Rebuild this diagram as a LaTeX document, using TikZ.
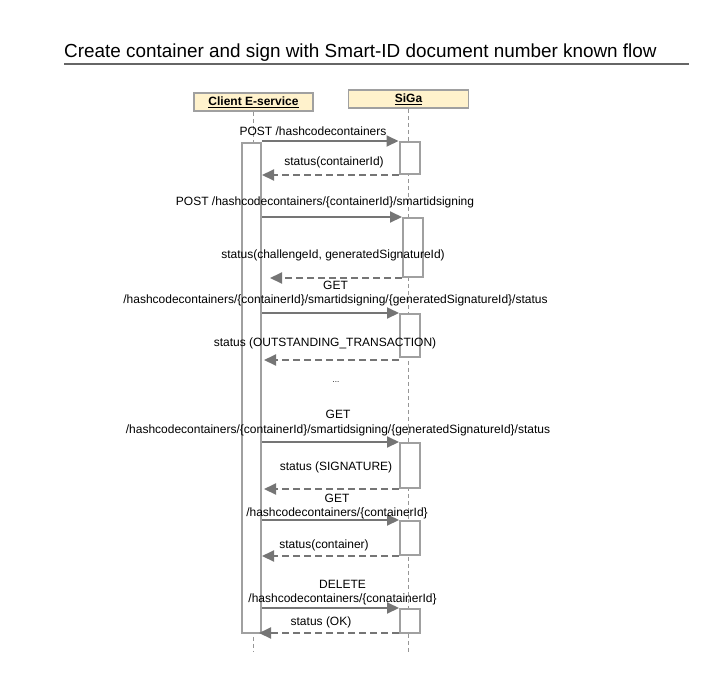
\documentclass[tikz,border=0pt]{standalone}
\usepackage{fontspec}
\setmainfont{Liberation Sans}
\usepackage{tikz}
\usetikzlibrary{arrows.meta}
\definecolor{cream}{RGB}{255, 242, 204}
\definecolor{silver}{RGB}{160, 160, 160}
\definecolor{concrete}{RGB}{117, 117, 117}
\definecolor{asbestos}{RGB}{150, 150, 150}
\definecolor{wetasphalt}{RGB}{102, 102, 102}

\begin{document}
\begin{tikzpicture}[x=1pt, y=-1pt,
            actor/.style={draw=silver, fill=cream, line width=1.5pt, inner sep=0pt, font=\fontsize{12}{14}\selectfont\bfseries},
            act/.style={draw=silver, fill=white, line width=2pt, inner sep=0pt, anchor=north west},
            life/.style={draw=asbestos, line width=1.5pt, dash pattern=on 4pt off 3pt},
            msg/.style={draw=concrete, line width=2pt, -{Triangle[length=12pt, width=11pt]}},
            reply/.style={msg, dash pattern=on 7pt off 4pt},
            lbl/.style={font=\fontsize{12}{14.3}\selectfont, align=center, inner sep=0pt}]
        \useasboundingbox (0,0) rectangle (724,681);
            \node[anchor=base west, inner sep=0pt, font=\fontsize{18.9}{22}\selectfont] (title) at (64,57)
                 {Create container and sign with Smart-ID document number known flow};
            \coordinate (rulestart) at ( 64.0, 64.0);
            \coordinate (ruleend)   at (689.0, 64.0);
            \draw[wetasphalt, line width=1.5pt] (rulestart) -- (ruleend);
            \node[actor, minimum width=119pt, minimum height=18pt] (client) at (253.5,102.0) {\underline{Client E-service}};
            \node[actor, minimum width=120pt, minimum height=18pt] (siga)   at (408.5, 99.0) {\underline{SiGa}};
            \coordinate (lifeend) at (0.0,652.0);
            \draw[life] (client.south) -- (client.south |- lifeend);
            \draw[life] (siga.south)   -- (siga.south   |- lifeend);
            \node[act, minimum width=19pt, minimum height=490pt] (bar)  at (241.0,142.0) {};
            \node[act, minimum width=20pt, minimum height=32pt]  (act1) at (398.5,141.0) {};
            \node[act, minimum width=20pt, minimum height=59pt]  (act2) at (402.0,217.0) {};
            \node[act, minimum width=20pt, minimum height=43pt]  (act3) at (399.0,313.0) {};
            \node[act, minimum width=20pt, minimum height=45pt]  (act4) at (399.0,442.0) {};
            \node[act, minimum width=20pt, minimum height=34pt]  (act5) at (399.0,520.0) {};
            \node[act, minimum width=20pt, minimum height=24pt]  (act6) at (399.0,608.0) {};
            \draw[msg]   (bar.east |- act1.north west) -- (act1.north west);
            \draw[reply] (act1.south west) -- (bar.east |- act1.south west);
            \draw[msg]   (bar.east |- act2.north west) -- (act2.north west);
            \draw[reply] (act2.south west) -- ([xshift=8pt]bar.east |- act2.south west);
            \draw[msg]   (bar.east |- act3.north west) -- (act3.north west);
            \draw[reply] ([yshift=-2pt]act3.south west) -- ([xshift=2pt,yshift=-2pt]bar.east |- act3.south west);
            \draw[msg]   (bar.east |- act4.north west) -- (act4.north west);
            \draw[reply] (act4.south west) -- ([xshift=2pt]bar.east |- act4.south west);
            \draw[msg]   (bar.east |- act5.north west) -- (act5.north west);
            \draw[reply] (act5.south west) -- (bar.east |- act5.south west);
            \draw[msg]   (bar.east |- act6.north west) -- (act6.north west);
            \draw[reply] ([yshift=1pt]act6.south west) -- ([xshift=-3pt,yshift=1pt]bar.east |- act6.south west);
            \node[lbl] (l1)  at (313.0,131.5) {POST /hashcodecontainers};
            \node[lbl] (l2)  at (334.0,162.5) {status(containerId)};
            \node[lbl] (l3)  at (325.0,202.5) {POST /hashcodecontainers/\{containerId\}/smartidsigning};
            \node[lbl] (l4)  at (333.0,255.5) {status(challengeId, generatedSignatureId)};
            \node[lbl] (l5)  at (335.5,293.5) {GET\\/hashcodecontainers/\{containerId\}/smartidsigning/\{generatedSignatureId\}/status};
            \node[lbl] (l6)  at (325.0,343.5) {status (OUTSTANDING\_TRANSACTION)};
            \node[lbl, font=\fontsize{8}{10}\selectfont] (l7) at (336.0,382.0) {...};
            \node[lbl] (l8)  at (338.0,423.0) {GET\\/hashcodecontainers/\{containerId\}/smartidsigning/\{generatedSignatureId\}/status};
            \node[lbl] (l9)  at (336.0,467.5) {status (SIGNATURE)};
            \node[lbl] (l10) at (337.0,506.5) {GET\\/hashcodecontainers/\{containerId\}};
            \node[lbl] (l11) at (324.0,545.5) {status(container)};
            \node[lbl] (l12) at (342.5,592.5) {DELETE\\/hashcodecontainers/\{conatainerId\}};
            \node[lbl] (l13) at (321.0,622.5) {status (OK)};
        \end{tikzpicture}
\end{document}
